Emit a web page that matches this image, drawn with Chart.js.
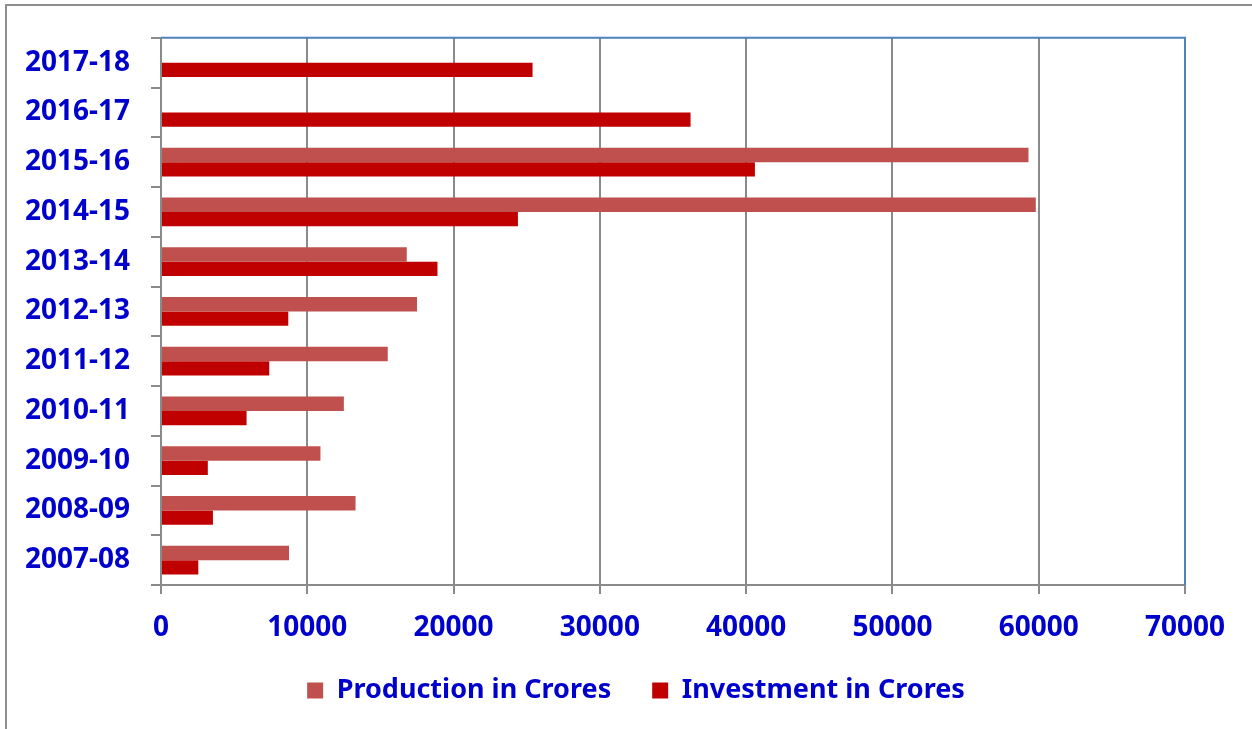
<!DOCTYPE html>
<html>
<head>
<meta charset="utf-8">
<script src="https://cdn.jsdelivr.net/npm/chart.js@4.4.1/dist/chart.umd.min.js"></script>
<style>
  html, body { margin: 0; padding: 0; background: #fff; }
</style>
</head>
<body>
<canvas id="chart" width="1252" height="729"></canvas>
<script>
// years top to bottom, as they appear on the chart
const years = ['2017-18', '2016-17', '2015-16', '2014-15', '2013-14', '2012-13',
  '2011-12', '2010-11', '2009-10', '2008-09', '2007-08'];
const production = [null, null, 59300, 59800, 16800, 17500, 15500, 12500, 10900, 13300, 8750];
const investment = [25400, 36200, 40600, 24400, 18900, 8700, 7400, 5850, 3200, 3550, 2550];
const xTicks = [0, 10000, 20000, 30000, 40000, 50000, 60000, 70000];

const BLUE_TEXT = '#0000CC';
const GRID = '#8a8a8a';
const FONT = "'Noto Sans', 'DejaVu Sans', sans-serif";

// outer grey frame, blue top/right border of the plot, legend nudge
const framePlugin = {
  id: 'frame',
  afterLayout(chart) {
    // legend sits a bit right of centre and closer to the axis in the original
    const lg = chart.legend;
    lg.left = 87;
    lg.top -= 9;
    lg.bottom -= 9;
  },
  beforeDraw(chart) {
    const c = chart.ctx;
    c.save();
    c.strokeStyle = '#8f8f8f';
    c.lineWidth = 2;
    c.strokeRect(6, 5, 1400, 1000);
    c.restore();
  },
  afterDraw(chart) {
    const a = chart.chartArea;
    const c = chart.ctx;
    c.save();
    c.strokeStyle = '#4F81BD';
    c.lineWidth = 2;
    c.beginPath();
    c.moveTo(a.left, a.top);
    c.lineTo(a.right, a.top);
    c.lineTo(a.right, a.bottom);
    c.stroke();
    c.restore();
  }
};

new Chart(document.getElementById('chart'), {
  type: 'bar',
  data: {
    labels: years,
    datasets: [
      {
        label: 'Production in Crores',
        data: production,
        backgroundColor: '#C0504D',
        borderWidth: 0
      },
      {
        label: 'Investment in Crores',
        data: investment,
        backgroundColor: '#C00000',
        borderWidth: 0
      }
    ]
  },
  options: {
    indexAxis: 'y',
    responsive: false,
    animation: false,
    categoryPercentage: 0.58,
    barPercentage: 1.0,
    layout: { autoPadding: false, padding: { left: 0, right: 67, top: 32.2, bottom: 6 } },
    plugins: {
      tooltip: { enabled: false },
      legend: {
        position: 'bottom',
        labels: {
          color: BLUE_TEXT,
          boxWidth: 16,
          boxHeight: 16,
          padding: 41,
          font: { family: FONT, size: 27, weight: 'bold' }
        }
      }
    },
    scales: {
      x: {
        min: 0,
        max: 70000,
        afterBuildTicks: scale => { scale.ticks = xTicks.map(v => ({ value: v })); },
        afterFit: scale => { scale.height = 60; },
        grid: { color: GRID, lineWidth: 2, tickLength: 9, tickColor: GRID },
        border: { color: GRID, width: 2 },
        ticks: {
          color: BLUE_TEXT,
          padding: 17,
          maxRotation: 0,
          callback: v => String(v),
          font: { family: FONT, size: 28, weight: 'bold' }
        }
      },
      y: {
        afterFit: scale => { scale.width = 161; },
        grid: { drawOnChartArea: false, color: GRID, lineWidth: 2, tickLength: 10, offset: true },
        border: { color: GRID, width: 2 },
        ticks: {
          color: BLUE_TEXT,
          padding: 21,
          font: { family: FONT, size: 28, weight: 'bold' }
        }
      }
    }
  },
  plugins: [framePlugin]
});
</script>
</body>
</html>
